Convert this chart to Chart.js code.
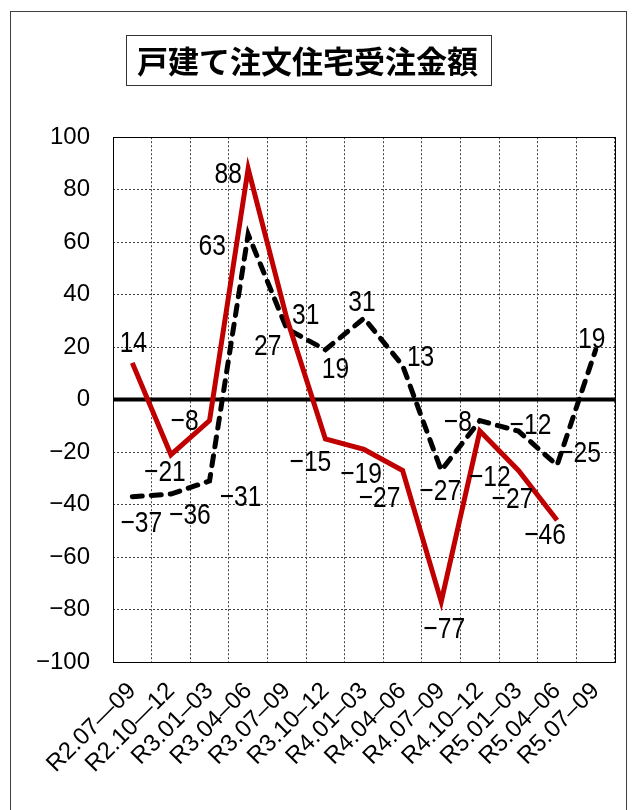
<!DOCTYPE html>
<html><head><meta charset="utf-8">
<script src="https://cdn.jsdelivr.net/npm/chart.js@4.4.0/dist/chart.umd.min.js"></script>
<style>html,body{margin:0;padding:0;background:#fff}#wrap{width:633px;height:810px;position:relative}</style>
</head><body><div id="wrap"><canvas id="c" width="633" height="810"></canvas></div>
<script>
const titleText = '戸建て注文住宅受注金額';
const categories = ['R2.07—09','R2.10—12','R3.01–03','R3.04–06','R3.07–09','R3.10–12','R4.01–03','R4.04–06','R4.07–09','R4.10–12','R5.01–03','R5.04–06','R5.07–09'];
const seriesA = [14,-21,-8,88,31,-15,-19,-27,-77,-12,-27,-46,null];
const seriesB = [-37,-36,-31,63,27,19,31,13,-27,-8,-12,-25,19];
const yTickValues = [-100,-80,-60,-40,-20,0,20,40,60,80,100];

// label placement (pixel offsets from each point to its label centre)
const seriesALabelOffsets = [[1,-22],[-6,15],[-25,-2],[-20,3],[19,-5],[-15,21],[-3,23],[-23,26],[3,25],[10,44],[-6,27],[-12,13]];
const seriesBLabelOffsets = [[9,24],[19,19],[31,14],[-36,10],[-19,15],[10,17],[-2,-18],[18,-10],[-1,19],[-22,-1],[12,-8],[23,-14],[-4,-13]];

const fmt = v => (v < 0 ? '\u2212' + Math.abs(v) : String(v));

const framePlugin = {
  id: 'frame',
  beforeDatasetsDraw(chart) {
    const {ctx, chartArea: a, scales} = chart;
    ctx.save();
    ctx.strokeStyle = '#000';
    ctx.lineWidth = 1;
    ctx.strokeRect(Math.round(a.left) + 0.5, Math.round(a.top) + 0.5, Math.round(a.right - a.left), Math.round(a.bottom - a.top));
    const y0 = scales.y.getPixelForValue(0);
    ctx.lineWidth = 4;
    ctx.beginPath();
    ctx.moveTo(a.left, y0);
    ctx.lineTo(a.right, y0);
    ctx.stroke();
    ctx.restore();
  },
  afterDraw(chart) {
    const {ctx} = chart;
    ctx.save();
    ctx.strokeStyle = '#404040';
    ctx.lineWidth = 1;
    ctx.strokeRect(10.5, 11.5, 616, 820);
    const tb = chart.titleBlock;
    const cx = (tb.left + tb.right) / 2;
    ctx.font = "bold 31px 'Noto Sans CJK JP'";
    const w = ctx.measureText(titleText).width;
    const cy = tb.top + 43 + 18;
    ctx.strokeStyle = '#333';
    ctx.strokeRect(Math.round(cx - w / 2 - 11) + 0.5, Math.round(cy - 26) + 0.5, Math.round(w + 24), 50);
    ctx.restore();
  }
};

const labelPlugin = {
  id: 'pointLabels',
  afterDatasetsDraw(chart) {
    const {ctx} = chart;
    const offs = [seriesALabelOffsets, seriesBLabelOffsets];
    ctx.save();
    ctx.fillStyle = '#000';
    ctx.font = "30px 'Liberation Sans'";
    ctx.textAlign = 'center';
    ctx.textBaseline = 'alphabetic';
    chart.data.datasets.forEach((ds, i) => {
      const meta = chart.getDatasetMeta(i);
      ds.data.forEach((v, j) => {
        if (v === null || v === undefined) return;
        const p = meta.data[j];
        const o = offs[i][j];
        const x = p.x + o[0], y = p.y + o[1];
        ctx.save();
        ctx.translate(x, y + 11);
        ctx.scale(0.82, 1);
        ctx.fillText(fmt(v), 0, 0);
        ctx.restore();
      });
    });
    ctx.restore();
  }
};

const tickFont = {family: "'Liberation Sans', Arial, sans-serif", size: 24};

new Chart(document.getElementById('c').getContext('2d'), {
  type: 'line',
  data: {
    labels: categories,
    datasets: [
      {data: seriesA, borderColor: '#c00000', borderWidth: 5, pointRadius: 0, tension: 0, borderJoinStyle: 'miter', fill: false},
      {data: seriesB, borderColor: '#000', borderWidth: 5, borderDash: [10, 9], borderCapStyle: 'round', pointRadius: 0, tension: 0, fill: false}
    ]
  },
  options: {
    responsive: false,
    animation: false,
    devicePixelRatio: 1,
    layout: {padding: {left: 0, right: 18, top: 0, bottom: 0}},
    plugins: {
      legend: {display: false},
      tooltip: {enabled: false},
      title: {
        display: true, text: titleText, color: '#000',
        font: {family: "'Noto Sans CJK JP'", size: 31, weight: 'bold', lineHeight: 1.2},
        padding: {top: 43, bottom: 57}
      }
    },
    scales: {
      x: {
        type: 'category', offset: true,
        grid: {offset: true, color: '#444', lineWidth: 1, drawTicks: false},
        border: {display: false, dash: [2, 2]},
        ticks: {autoSkip: false, maxRotation: 45, minRotation: 45, font: tickFont, color: '#000', padding: 15},
        afterFit(s) { s.height = 148; }
      },
      y: {
        min: -100, max: 100,
        afterBuildTicks(s) { s.ticks = yTickValues.map(v => ({value: v})); },
        grid: {color: '#444', lineWidth: 1, drawTicks: false},
        border: {display: false, dash: [2, 2]},
        ticks: {font: tickFont, color: '#000', padding: 23, callback: v => fmt(v)},
        afterFit(s) { s.width = 113; }
      }
    }
  },
  plugins: [framePlugin, labelPlugin]
});
</script>
</body></html>
